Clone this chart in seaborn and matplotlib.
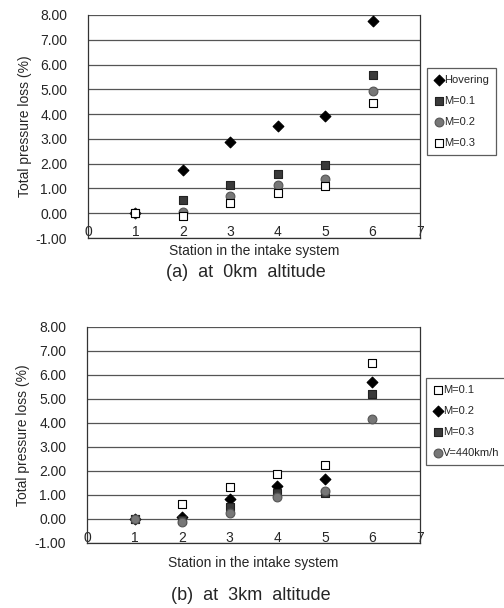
import pandas as pd
import matplotlib
matplotlib.use('Agg')
import matplotlib.pyplot as plt
import seaborn as sns

# Station numbers
stations = [1, 2, 3, 4, 5, 6]

# (a) 0km altitude
hovering = [0.00, 1.74, 2.87, 3.52, 3.93, 7.77]
m01_a = [0.00, 0.53, 1.13, 1.58, 1.94, 5.59]
m02_a = [0.00, 0.05, 0.69, 1.12, 1.38, 4.92]
m03_a = [0.00, -0.12, 0.40, 0.82, 1.10, 4.45]

# (b) 3km altitude
m01_b = [0.00, 0.62, 1.35, 1.88, 2.27, 6.50]
m02_b = [0.00, 0.08, 0.85, 1.37, 1.68, 5.72]
m03_b = [0.00, -0.05, 0.50, 1.08, 1.10, 5.20]
v440_b = [0.00, -0.12, 0.25, 0.90, 1.15, 4.15]

yticks = [-1, 0, 1, 2, 3, 4, 5, 6, 7, 8]
xticks = [0, 1, 2, 3, 4, 5, 6, 7]

sns.set_style('white')
plt.rcParams['font.family'] = ['Liberation Sans', 'DejaVu Sans']

# marker styles per series name
styles = {
    'Hovering': dict(marker='D', color='black', edgecolor='black', s=30),
    'M=0.1': dict(marker='s', color='#3a3a3a', edgecolor='#222222', s=40),
    'M=0.2': dict(marker='o', color='#777777', edgecolor='#555555', s=40),
    'M=0.3': dict(marker='s', color='white', edgecolor='black', s=40),
    'V=440km/h': dict(marker='o', color='#777777', edgecolor='#555555', s=40),
}

fig = plt.figure(figsize=(5.04, 6.08), dpi=100)
W, H = 504, 608
ax1 = fig.add_axes([88 / W, 1 - 238 / H, 332 / W, 223 / H])
ax2 = fig.add_axes([87 / W, 1 - 543 / H, 333 / W, 216 / H])


def draw(ax, series, legend_box):
    for y in yticks:
        ax.axhline(y, color='#555555', lw=0.9, zorder=0)
    for name, key, vals in series:
        df = pd.DataFrame({'station': stations, 'loss': vals})
        st = styles[key]
        sns.scatterplot(data=df, x='station', y='loss', ax=ax, label=name,
                        marker=st['marker'], color=st['color'],
                        edgecolor=st['edgecolor'], s=st['s'], linewidth=0.8,
                        zorder=3)
    ax.set_xlim(0, 7)
    ax.set_ylim(-1, 8)
    ax.set_xticks(xticks)
    ax.set_yticks(yticks)
    ax.set_yticklabels([f'{v:.2f}' for v in yticks], fontsize=10)
    ax.set_xticklabels([str(v) for v in xticks], fontsize=10)
    ax.tick_params(axis='x', length=0, pad=-9)
    ax.tick_params(axis='y', length=3, pad=12, direction='out')
    for sp in ax.spines.values():
        sp.set_color('#333333')
        sp.set_linewidth(0.9)
    ax.spines['top'].set_visible(False)
    ax.set_xlabel('Station in the intake system', fontsize=10)
    ax.xaxis.label.set_va('center')
    ax.set_ylabel('Total pressure loss (%)', fontsize=10)
    leg = ax.legend(loc='upper left', bbox_to_anchor=legend_box,
                    bbox_transform=fig.transFigure, frameon=True,
                    fancybox=False, fontsize=8, handletextpad=0.05,
                    borderpad=0.6, labelspacing=1.0, handlelength=0.9,
                    borderaxespad=0)
    leg.get_frame().set_edgecolor('#333333')
    leg.get_frame().set_linewidth(0.9)


draw(ax1, [('Hovering', 'Hovering', hovering),
           ('M=0.1', 'M=0.1', m01_a),
           ('M=0.2', 'M=0.2', m02_a),
           ('M=0.3', 'M=0.3', m03_a)],
     (427 / W, 1 - 68 / H))
ax1.yaxis.set_label_coords(-0.17, 0.5)
ax1.xaxis.set_label_coords(0.5, -13 / 223)

draw(ax2, [('M=0.1', 'M=0.3', m01_b),
           ('M=0.2', 'Hovering', m02_b),
           ('M=0.3', 'M=0.1', m03_b),
           ('V=440km/h', 'V=440km/h', v440_b)],
     (426 / W, 1 - 378 / H))
ax2.yaxis.set_label_coords(-0.17, 0.5)
ax2.xaxis.set_label_coords(0.5, -20 / 216)

fig.text(246 / W, 1 - 272 / H, '(a)  at  0km  altitude', fontsize=13,
         ha='center', va='center')
fig.text(251 / W, 1 - 595 / H, '(b)  at  3km  altitude', fontsize=13,
         ha='center', va='center')

fig.savefig('out.png', dpi=100)
